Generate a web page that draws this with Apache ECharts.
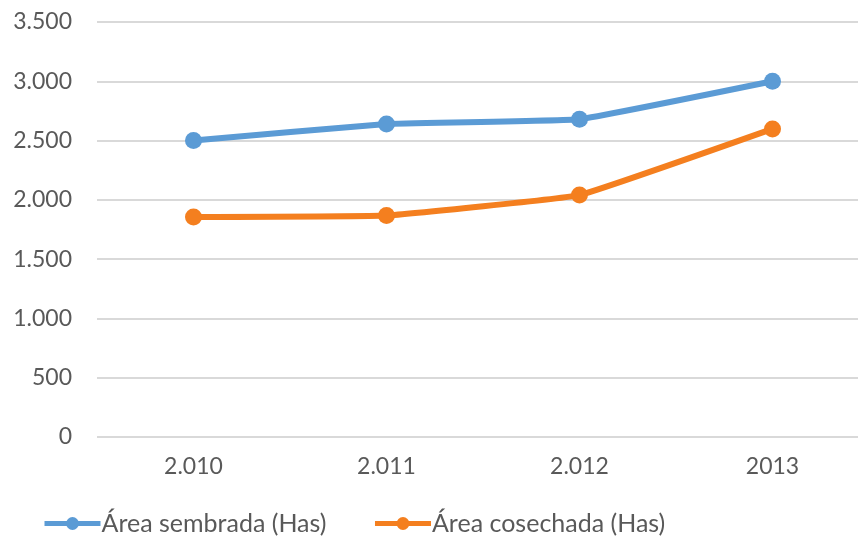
<!DOCTYPE html>
<html><head><meta charset="utf-8">
<script src="https://cdn.jsdelivr.net/npm/echarts@6/dist/echarts.min.js"></script>
<style>html,body{margin:0;padding:0;background:#fff}#c{width:858px;height:536px}</style>
</head><body><div id="c"></div>
<script>
const categories = ['2.010', '2.011', '2.012', '2013'];
const sembrada = [2500, 2640, 2680, 3000];
const cosechada = [1855, 1868, 2040, 2598];
const seriesNames = ['Área sembrada (Has)', 'Área cosechada (Has)'];
const yTicks = [0, 500, 1000, 1500, 2000, 2500, 3000, 3500];

const fmt = v => String(v).replace(/\B(?=(\d{3})+(?!\d))/g, '.');
const FONT = 'Lato';
const chart = echarts.init(document.getElementById('c'), null, {renderer: 'canvas'});
chart.setOption({
  animation: false,
  backgroundColor: '#fff',
  grid: {left: 97, top: 22, right: -11, height: 415, containLabel: false, outerBoundsMode: 'none'},
  xAxis: {
    type: 'category', data: categories, boundaryGap: true,
    axisLine: {show: false}, axisTick: {show: false},
    axisLabel: {color: '#595959', fontSize: 23, fontFamily: FONT, margin: 18}
  },
  yAxis: {
    type: 'value', min: yTicks[0], max: yTicks[yTicks.length - 1], interval: 500,
    axisLine: {show: false}, axisTick: {show: false},
    splitLine: {lineStyle: {color: '#d9d9d9', width: 2}},
    axisLabel: {color: '#595959', fontSize: 23, fontFamily: FONT, margin: 25, formatter: fmt}
  },
  legend: {
    bottom: 0, left: 42, padding: 0, itemWidth: 56, itemHeight: 16, itemGap: 46,
    textStyle: {color: '#595959', fontSize: 25, fontFamily: FONT, padding: [0,0,0,-4]},
    lineStyle: {width: 5},
    data: seriesNames
  },
  series: [
    {name: seriesNames[0], type: 'line', data: sembrada, smooth: 0.08, symbol: 'circle', symbolSize: 17,
     color: '#5B9BD5', lineStyle: {width: 6, color: '#5B9BD5'}, itemStyle: {color: '#5B9BD5'}},
    {name: seriesNames[1], type: 'line', data: cosechada, smooth: 0.08, symbol: 'circle', symbolSize: 17,
     color: '#F47F1F', lineStyle: {width: 6, color: '#F47F1F'}, itemStyle: {color: '#F47F1F'}}
  ]
});
</script></body></html>
